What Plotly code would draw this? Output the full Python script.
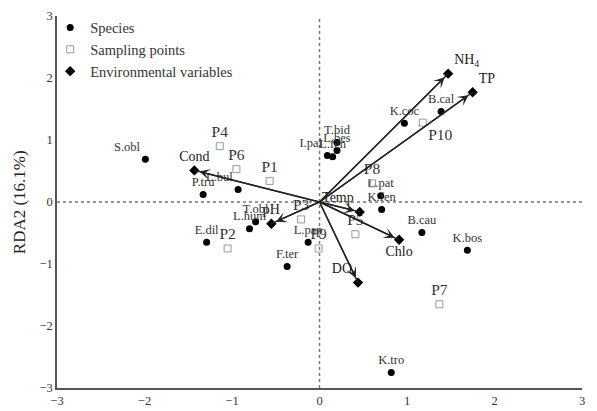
import plotly.graph_objects as go

# ---- data ----
species_names = ["S.obl", "P.tru", "L.bul", "E.dil", "L.hum", "T.obl", "L.pap", "F.ter",
                 "T.bid", "L.bes", "L.fen", "I.pal", "L.pat", "K.fen", "B.cau", "K.bos",
                 "K.tro", "K.coc", "B.cal"]
species_x = [-1.99, -1.33, -0.93, -1.29, -0.80, -0.73, -0.13, -0.37,
             0.20, 0.20, 0.15, 0.09, 0.70, 0.71, 1.17, 1.69, 0.82, 0.97, 1.39]
species_y = [0.69, 0.12, 0.20, -0.65, -0.43, -0.32, -0.65, -1.04,
             0.96, 0.83, 0.73, 0.75, 0.10, -0.12, -0.49, -0.78, -2.75, 1.27, 1.46]

site_names = ["P1", "P2", "P3", "P4", "P5", "P6", "P7", "P8", "P9", "P10"]
site_x = [-0.57, -1.05, -0.21, -1.14, 0.41, -0.95, 1.37, 0.60, -0.01, 1.18]
site_y = [0.34, -0.75, -0.28, 0.90, -0.52, 0.53, -1.65, 0.30, -0.75, 1.28]

env_names = ["Cond", "pH", "Temp", "Chlo", "DO", "NH<sub>4</sub>", "TP"]
env_x = [-1.43, -0.55, 0.46, 0.91, 0.44, 1.47, 1.75]
env_y = [0.51, -0.35, -0.16, -0.61, -1.30, 2.07, 1.77]

tick_vals = [-3, -2, -1, 0, 1, 2, 3]
y_title = "RDA2 (16.1%)"

# label placement (style)
species_pos = ["top left", "top center", "top left", "top center", "top center", "top center",
               "top center", "top center", "top center", "top center", "top center", "top left",
               "top center", "top center", "top center", "top center", "top center", "top center",
               "top center"]
site_pos = ["top center"] * 9 + ["bottom right"]
env_pos = ["top center", "top center", "top left", "bottom center", "top left", "top right", "top right"]

FONT = "Liberation Serif"

fig = go.Figure()

fig.add_trace(go.Scatter(
    x=species_x, y=species_y, mode="markers+text", name="Species",
    text=species_names, textposition=species_pos,
    textfont=dict(family=FONT, size=12.5, color="#333"),
    marker=dict(symbol="circle", size=7, color="black"),
))
fig.add_trace(go.Scatter(
    x=site_x, y=site_y, mode="markers+text", name="Sampling points",
    text=site_names, textposition=site_pos,
    textfont=dict(family=FONT, size=15.5, color="#333"),
    marker=dict(symbol="square-open", size=7, color="#999", line=dict(width=1)),
))
fig.add_trace(go.Scatter(
    x=env_x, y=env_y, mode="markers+text", name="Environmental variables",
    text=env_names, textposition=env_pos,
    textfont=dict(family=FONT, size=14, color="#222"),
    marker=dict(symbol="diamond", size=8, color="black"),
))

# arrows from origin to environmental variables
for ex, ey in zip(env_x, env_y):
    fig.add_annotation(
        x=ex, y=ey, ax=0, ay=0, xref="x", yref="y", axref="x", ayref="y",
        text="", showarrow=True, arrowhead=3, arrowsize=1.3, arrowwidth=1.4,
        arrowcolor="#222", standoff=5,
    )
    fig.add_shape(type="line", x0=0, y0=0, x1=ex, y1=ey, xref="x", yref="y",
                  line=dict(color="#222", width=1.4))

# y-axis title as annotation
fig.add_annotation(text=y_title, xref="paper", yref="paper", x=-0.072, y=0.5,
                   xanchor="center", yanchor="middle", textangle=-90, showarrow=False,
                   font=dict(family=FONT, size=17, color="#222"))

# dotted zero lines
fig.add_shape(type="line", x0=-3, x1=3.2, y0=0, y1=0, xref="x", yref="y",
              line=dict(color="#777", width=1.5, dash="dot"), layer="below")
fig.add_shape(type="line", x0=0, x1=0, y0=-3, y1=3, xref="x", yref="y",
              line=dict(color="#777", width=1.5, dash="dot"), layer="below")

fig.update_layout(
    width=589, height=403,
    margin=dict(l=49, r=15, t=4, b=23),
    paper_bgcolor="white", plot_bgcolor="white",
    font=dict(family=FONT, size=12, color="#333"),
    showlegend=True,
    legend=dict(x=-0.013, y=1.012, xanchor="left", yanchor="top",
                bgcolor="rgba(0,0,0,0)", font=dict(family=FONT, size=14.5, color="#333"),
                itemsizing="trace", tracegroupgap=0, itemwidth=30),
    xaxis=dict(range=[-3, 3], tickvals=tick_vals, showgrid=False, zeroline=False,
               showline=True, linecolor="#555", linewidth=1.5, ticks="", automargin=False,
               tickfont=dict(family=FONT, size=12.5, color="#333")),
    yaxis=dict(range=[-3, 3], tickvals=tick_vals, showgrid=False, zeroline=False,
               showline=True, linecolor="#555", linewidth=1.5, ticks="", automargin=False,
               tickfont=dict(family=FONT, size=12.5, color="#333")),
)

fig.write_html("out.html")
